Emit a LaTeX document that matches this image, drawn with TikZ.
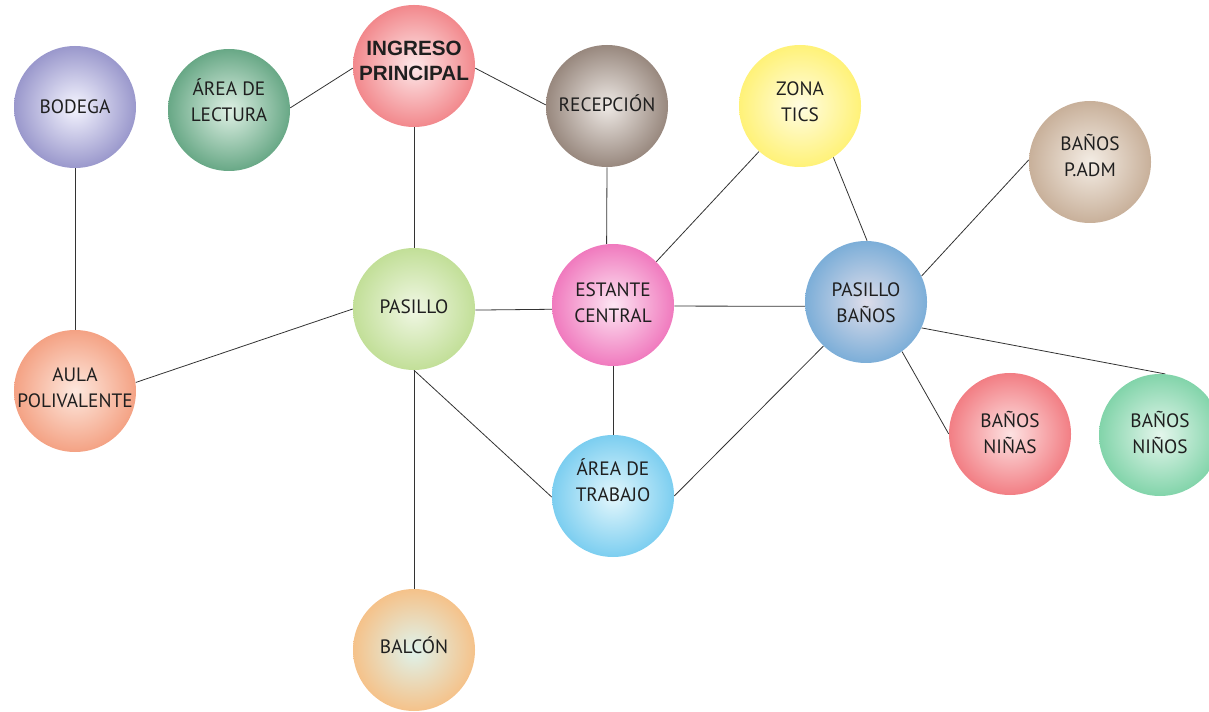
\documentclass[tikz,border=0pt]{standalone}
\usepackage{fontspec}
\setmainfont{PT Sans}
\newfontfamily\boldarial{Liberation Sans}
\usetikzlibrary{backgrounds}
\definecolor{edgecol}{HTML}{333333}
\tikzset{
  bubble/.style={circle, minimum size=91.5pt, inner sep=0pt, draw=none},
  btext/.style={align=center, font=\fontsize{14.5}{19.5}\selectfont, text=black!88},
  link/.style={draw=edgecol, line width=0.6pt},
}
\begin{document}
\begin{tikzpicture}[x=0.75pt,y=-0.75pt]
\path[use as bounding box] (0,0) rectangle (1209,712);

\node[bubble, inner color=white!80!blue!20, outer color={rgb,255:red,154;green,152;blue,204}] (bod) at (75,107) {};
\node[btext] at (bod) {BODEGA};

\node[bubble, inner color={rgb,255:red,222;green,240;blue,228}, outer color={rgb,255:red,104;green,168;blue,134}] (lec) at (229,110) {};
\node[btext, yshift=7.5pt] at (lec) {ÁREA DE\\LECTURA};

\node[bubble, inner color={rgb,255:red,253;green,232;blue,233}, outer color={rgb,255:red,242;green,136;blue,140}] (ing) at (414,66) {};
\node[align=center, font=\boldarial\bfseries\fontsize{15.5}{18.75}\selectfont, text=black!88, yshift=3.75pt] at (ing) {INGRESO\\PRINCIPAL};

\node[bubble, inner color={rgb,255:red,238;green,233;blue,229}, outer color={rgb,255:red,152;green,136;blue,126}] (rec) at (607,106) {};
\node[btext, yshift=2.25pt] at (rec) {RECEPCIÓN};

\node[bubble, inner color={rgb,255:red,255;green,252;blue,226}, outer color={rgb,255:red,255;green,242;blue,120}] (zon) at (800,106) {};
\node[btext, yshift=3pt] at (zon) {ZONA\\TICS};

\node[bubble, inner color={rgb,255:red,244;green,237;blue,229}, outer color={rgb,255:red,200;green,176;blue,154}] (padm) at (1090,162) {};
\node[btext, yshift=5.25pt] at (padm) {BAÑOS\\P.ADM};

\node[bubble, inner color={rgb,255:red,240;green,247;blue,228}, outer color={rgb,255:red,194;green,223;blue,152}] (pas) at (414,309) {};
\node[btext, yshift=1.5pt] at (pas) {PASILLO};

\node[bubble, inner color={rgb,255:red,253;green,230;blue,243}, outer color={rgb,255:red,240;green,122;blue,190}] (est) at (613,305) {};
\node[btext, yshift=1.5pt] at (est) {ESTANTE\\CENTRAL};

\node[bubble, inner color={rgb,255:red,222;green,221;blue,234}, outer color={rgb,255:red,124;green,174;blue,216}] (pb) at (866,302) {};
\node[btext, yshift=-0.75pt] at (pb) {PASILLO\\BAÑOS};

\node[bubble, inner color={rgb,255:red,253;green,232;blue,222}, outer color={rgb,255:red,244;green,162;blue,132}] (aula) at (75,391) {};
\node[btext, yshift=2.25pt] at (aula) {AULA\\POLIVALENTE};

\node[bubble, inner color={rgb,255:red,253;green,226;blue,226}, outer color={rgb,255:red,242;green,126;blue,132}] (nas) at (1010,434) {};
\node[btext, yshift=1.1pt] at (nas) {BAÑOS\\NIÑAS};

\node[bubble, inner color={rgb,255:red,228;green,246;blue,236}, outer color={rgb,255:red,130;green,212;blue,170}] (nos) at (1160,435) {};
\node[btext, yshift=1.9pt] at (nos) {BAÑOS\\NIÑOS};

\node[bubble, inner color={rgb,255:red,228;green,247;blue,252}, outer color={rgb,255:red,124;green,206;blue,240}] (trab) at (613,496) {};
\node[btext, yshift=12pt] at (trab) {ÁREA DE\\TRABAJO};

\node[bubble, inner color={rgb,255:red,222;green,243;blue,236}, outer color={rgb,255:red,245;green,194;blue,138}] (bal) at (414,650) {};
\node[btext, yshift=3.75pt] at (bal) {BALCÓN};

\begin{scope}[on background layer]
\draw[link] (bod) -- (aula);
\draw[link] (lec.2) -- (ing.182);
\draw[link] (ing.-2) -- (rec.179);
\draw[link] (ing) -- (pas);
\draw[link] (rec.south) -- (est.96);
\draw[link] (zon.228) -- (est.45);
\draw[link] (zon.-57) -- (pb.89);
\draw[link] (pb.25) -- (padm.178);
\draw[link] (pas.180) -- (aula.8);
\draw[link] (pas.-1) -- (est.184);
\draw[link] (est.-1) -- (pb.184);
\draw[link] (est) -- (trab);
\draw[link] (pas.south) -- (trab.181);
\draw[link] (pas) -- (bal);
\draw[link] (trab.0) -- (pb.226);
\draw[link] (pb.-54) -- (nas.180);
\draw[link] (pb.-25) -- (nos.85);
\end{scope}
\end{tikzpicture}
\end{document}
